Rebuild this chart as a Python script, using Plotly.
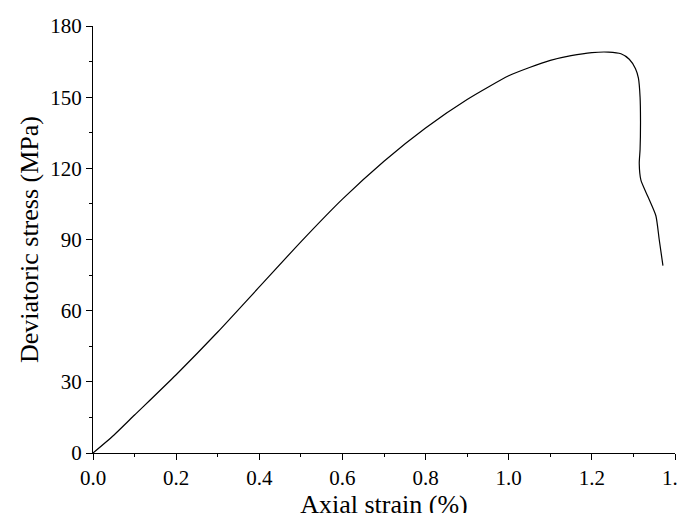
import plotly.graph_objects as go

strain = [0, 0.05, 0.1, 0.2, 0.3, 0.4, 0.5, 0.6, 0.7, 0.8, 0.9, 1.0, 1.05, 1.1, 1.15, 1.2, 1.24, 1.27, 1.29, 1.305, 1.312, 1.316, 1.317, 1.316, 1.314, 1.318, 1.335, 1.354, 1.362, 1.371]
stress = [0, 7.5, 16, 33, 51, 70, 89, 107, 123, 137, 149, 159, 162.5, 165.5, 167.5, 168.8, 169, 168.3, 166, 162, 158, 150, 140, 128, 122, 115, 108, 100, 90, 79]

fig = go.Figure(go.Scatter(x=strain, y=stress, mode="lines", line=dict(color="black", width=1.2, shape="spline", smoothing=0.6)))
font = dict(family="Liberation Serif, Times New Roman, serif", size=22, color="black")
fig.update_layout(
    width=685, height=513, margin=dict(l=85, r=18, t=18, b=68),
    paper_bgcolor="white", plot_bgcolor="white", showlegend=False, font=font,
)
common = dict(showgrid=False, zeroline=False, showline=True, linecolor="black", linewidth=1,
              ticks="outside", ticklen=6, tickcolor="black", tickfont=dict(size=21), automargin=False,
              minor=dict(ticks="outside", ticklen=3, tickcolor="black"))
fig.update_xaxes(range=[0, 1.4], dtick=0.2, tickformat=".1f", title_text="Axial strain (%)",
                 title_standoff=2, minor_dtick=0.1, **common)
fig.update_yaxes(range=[0, 180], dtick=30, title_text="Deviatoric stress (MPa)",
                 title_standoff=4, minor_dtick=15, **common)
fig.write_html("out.html")
